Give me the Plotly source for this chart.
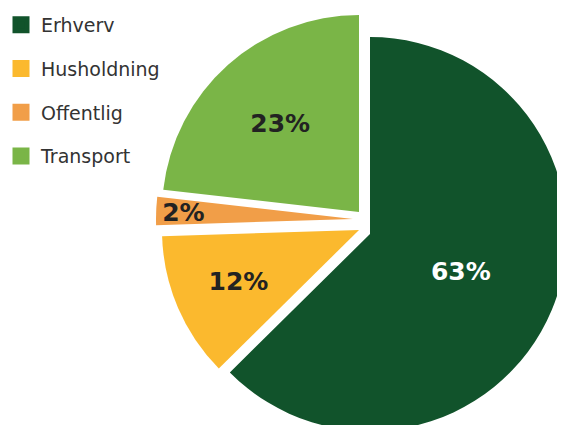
import plotly.graph_objects as go

# ---- data ----
labels = ["Erhverv", "Husholdning", "Offentlig", "Transport"]
values = [62.6, 11.9, 2.3, 23.2]
colors = ["#11532B", "#FBB92E", "#F19E48", "#7AB547"]
text_colors = ["#FFFFFF", "#222222", "#222222", "#222222"]

# ---- layout geometry (figure pixels): apex x, apex y, radius of each exploded slice,
#      and the radius used to place each percentage label ----
W, H = 565, 425
apex = [(362, 226, 197), (351, 222, 197), (345, 211, 197), (351, 204, 197)]
label_r = [197, 179, 182, 197]


def dom(cx, cy, r):
    return dict(
        x=[max(0.0, (cx - r) / W), min(1.0, (cx + r) / W)],
        y=[max(0.0, 1 - (cy + r) / H), min(1.0, 1 - (cy - r) / H)],
    )


fig = go.Figure()

# legend entries (tiny pies hidden beneath the big slice)
for i, lab in enumerate(labels):
    fig.add_trace(go.Pie(
        labels=[lab], values=[values[i]],
        marker=dict(colors=[colors[i]], line=dict(color=colors[i], width=5)),
        textinfo="none", hoverinfo="skip", sort=False,
        legendgroup="g%d" % i, showlegend=True,
        domain=dict(x=[0.83, 0.832], y=[0.30, 0.302]),
    ))

transparent = "rgba(0,0,0,0)"

# exploded slices
for i, lab in enumerate(labels):
    fig.add_trace(go.Pie(
        labels=labels, values=values, sort=False,
        direction="clockwise", rotation=0,
        marker=dict(colors=[c if j == i else transparent for j, c in enumerate(colors)],
                    line=dict(width=0)),
        textinfo="none", hoverinfo="skip", showlegend=False,
        domain=dom(*apex[i]),
    ))

# percentage labels
for i, lab in enumerate(labels):
    cx, cy, _ = apex[i]
    fig.add_trace(go.Pie(
        labels=labels, values=values, sort=False,
        direction="clockwise", rotation=0,
        marker=dict(colors=[transparent] * len(labels), line=dict(width=0)),
        texttemplate=["%{percent:.0%}" if j == i else "" for j in range(len(labels))],
        textposition="inside", insidetextorientation="horizontal",
        textfont=dict(family="DejaVu Sans", size=25, color=text_colors[i], weight="bold"),
        hoverinfo="skip", showlegend=False,
        domain=dom(cx, cy, label_r[i]),
    ))

fig.update_layout(
    width=W, height=H,
    margin=dict(l=0, r=0, t=0, b=0, pad=0, autoexpand=False),
    paper_bgcolor="white", plot_bgcolor="white",
    uniformtext=dict(mode="show", minsize=25),
    legend=dict(
        x=-7 / W, y=1 + 2 / H, xanchor="left", yanchor="top",
        font=dict(family="DejaVu Sans", size=19, color="#333333"),
        tracegroupgap=16, bgcolor="rgba(0,0,0,0)",
    ),
)

fig.write_html("out.html")
